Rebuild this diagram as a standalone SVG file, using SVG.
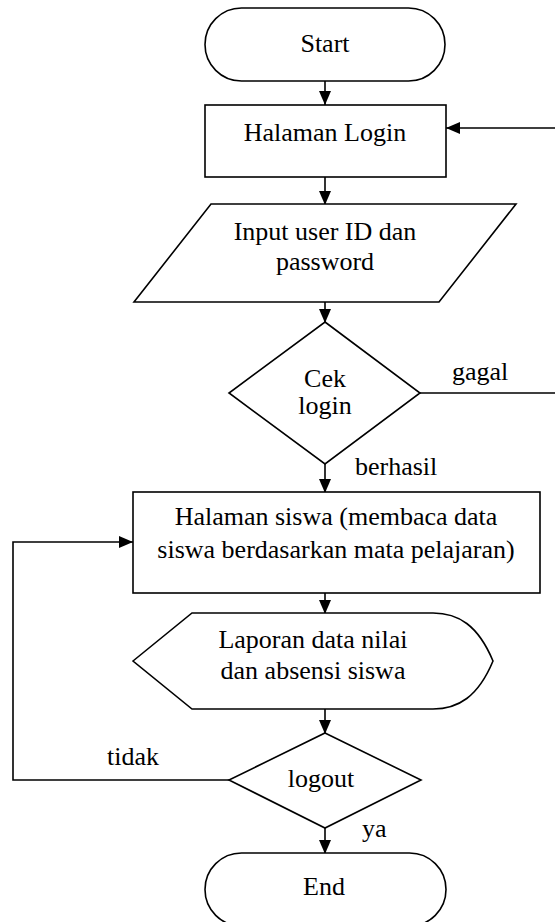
<svg xmlns="http://www.w3.org/2000/svg" width="555" height="922" viewBox="0 0 555 922">
  <defs>
    <marker id="arr" markerUnits="userSpaceOnUse" markerWidth="14" markerHeight="12" refX="14" refY="6" orient="auto">
      <path d="M0,0 L14,6 L0,12 z" fill="#000"/>
    </marker>
    <style>
      .shape { fill: #fff; stroke: #000; stroke-width: 1.6; }
      .conn { fill: none; stroke: #000; stroke-width: 1.6; marker-end: url(#arr); }
      .line { fill: none; stroke: #000; stroke-width: 1.6; }
      text { font-family: "Liberation Serif", "Times New Roman", serif; font-size: 26px; fill: #000; }
      .c { text-anchor: middle; }
    </style>
  </defs>
  <rect width="555" height="922" fill="#fff"/>

  <g id="connectors">
    <line class="conn" x1="325" y1="81" x2="325" y2="105"/>
    <line class="conn" x1="325" y1="177" x2="325" y2="205"/>
    <line class="conn" x1="325" y1="302" x2="325" y2="323"/>
    <line class="conn" x1="325" y1="464" x2="325" y2="493"/>
    <line class="conn" x1="325" y1="593" x2="325" y2="614"/>
    <line class="conn" x1="325" y1="709" x2="325" y2="734"/>
    <line class="conn" x1="325" y1="828" x2="325" y2="854"/>
    <polyline class="conn" points="420,393 557,393 557,128 446,128"/>
    <polyline class="conn" points="229,780 13,780 13,542 133,542"/>
  </g>

  <g id="start">
    <rect class="shape" x="205" y="8" width="240" height="73" rx="36.5" ry="36.5"/>
    <text class="c" x="325" y="52">Start</text>
  </g>

  <g id="halaman-login">
    <rect class="shape" x="205" y="105" width="241" height="72"/>
    <text class="c" x="325" y="141">Halaman Login</text>
  </g>

  <g id="input-login">
    <polygon class="shape" points="211,204 516,204 439,302 134,302"/>
    <text class="c" x="325" y="240">Input user ID dan</text>
    <text class="c" x="325" y="270">password</text>
  </g>

  <g id="cek-login">
    <polygon class="shape" points="325,322 420,393 325,464 229,393"/>
    <text class="c" x="325" y="387">Cek</text>
    <text class="c" x="325" y="414">login</text>
  </g>

  <g id="halaman-siswa">
    <rect class="shape" x="133" y="492" width="407" height="101"/>
    <text class="c" x="336" y="525">Halaman siswa (membaca data</text>
    <text class="c" x="336" y="558">siswa berdasarkan mata pelajaran)</text>
  </g>

  <g id="laporan">
    <path class="shape" d="M133,661 L192,613 L433,613 C458,613 478,625 493,661 C478,697 458,709 433,709 L192,709 Z"/>
    <text class="c" x="313" y="648">Laporan data nilai</text>
    <text class="c" x="313" y="679">dan absensi siswa</text>
  </g>

  <g id="logout">
    <polygon class="shape" points="325,733 421,780 325,828 229,780"/>
    <text class="c" x="321" y="787">logout</text>
  </g>

  <g id="end">
    <rect class="shape" x="205" y="853" width="241" height="73" rx="36.5" ry="36.5"/>
    <text class="c" x="324" y="895">End</text>
  </g>

  <g id="labels">
    <text x="452" y="380">gagal</text>
    <text x="355" y="475">berhasil</text>
    <text x="107" y="765">tidak</text>
    <text x="362" y="837">ya</text>
  </g>
</svg>
